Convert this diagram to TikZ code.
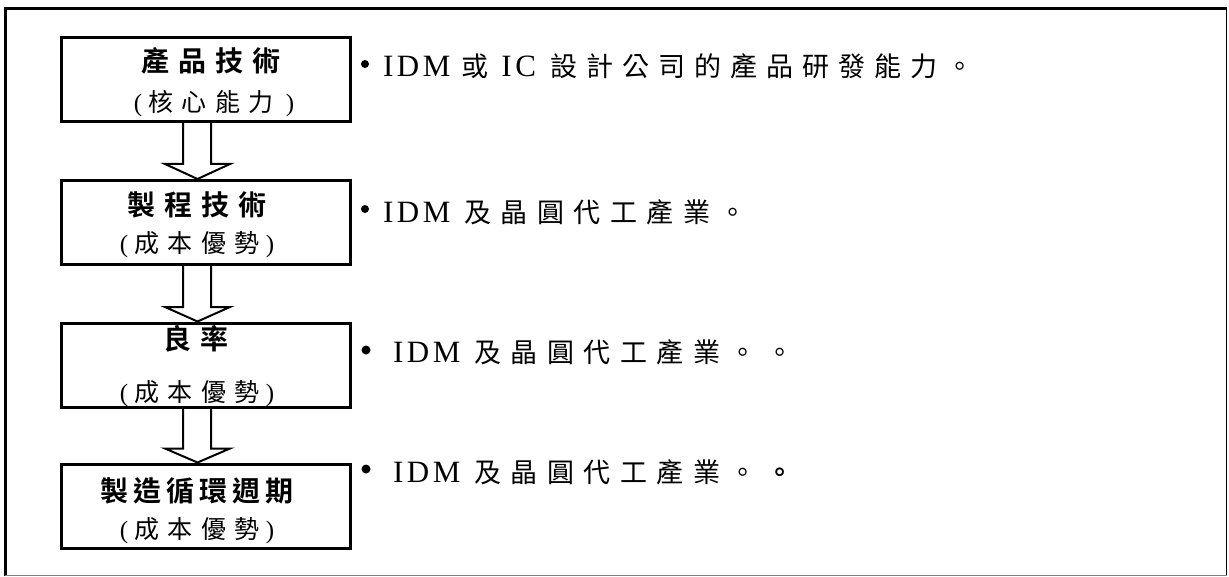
\documentclass[tikz,border=0pt]{standalone}
\usepackage{fontspec}
\usetikzlibrary{calc}
\setmainfont{Liberation Serif}
\newfontfamily\lat{Liberation Serif}
\newfontfamily\cjk{Noto Sans CJK TC}
\newfontfamily\cjkb{Noto Sans CJK TC Bold}

% set each character of a string in its own box, with a fixed gap after it
\ExplSyntaxOn
\NewDocumentCommand\spaced{m m}{\tl_map_inline:nn {#2}{\mbox{##1}\hspace{#1}}\unskip}
\ExplSyntaxOff

\newcommand\titlefont{\cjkb\fontsize{14pt}{16pt}\selectfont}
\newcommand\subfont{\fontsize{12.5pt}{15pt}\selectfont}
\newcommand\rowlat{\lat\fontsize{15.5pt}{18pt}\selectfont}
\newcommand\rowcjk{\cjk\fontsize{13.5pt}{16pt}\selectfont}

\begin{document}
\begin{tikzpicture}[x=0.5pt,y=-0.5pt,
  stepbox/.style={draw,line width=1.5pt,minimum width=144.5pt,minimum height=42pt,inner sep=0pt},
  blockarrow/.style={draw,line width=1pt,line join=miter},
  txt/.style={inner sep=0pt,outer sep=0pt},
  bullet/.style={circle,fill=black,inner sep=0pt}]
\useasboundingbox (0,0) rectangle (1229,577);

% outer frame
\draw[line width=1.4pt] (5.5,576) -- (5.5,8.5) -- (1227,8.5);
\draw[line width=0.8pt] (1226.5,8) -- (1226.5,576);
\draw[gray,line width=0.8pt] (5,575.6) -- (1227,575.6);

% the four stages
\node[stepbox] (b1) at (206,79.5) {};
\node[stepbox] (b2) at (206,222.5) {};
\node[stepbox] (b3) at (206,365) {};
\node[stepbox] (b4) at (206,506) {};

% stage titles
\node[txt] (t1) at (211,61) {\titlefont\spaced{4.5pt}{產品技術}};
\node[txt] (s1) at (214,104) {\subfont{\lat(}\hspace{3pt}{\cjk\spaced{4.25pt}{核心能力}}\hspace{6pt}{\lat)}};
\node[txt] (t2) at (197,205) {\titlefont\spaced{4.5pt}{製程技術}};
\node[txt] (s2) at (197,245) {\subfont{\lat(}\hspace{3pt}{\cjk\spaced{4.25pt}{成本優勢}}\hspace{3pt}{\lat)}};
\node[txt] (t3) at (196,339) {\titlefont\spaced{4.5pt}{良率}};
\node[txt] (s3) at (197,394) {\subfont{\lat(}\hspace{3pt}{\cjk\spaced{4.25pt}{成本優勢}}\hspace{3pt}{\lat)}};
\node[txt] (t4) at (197,491) {\titlefont\spaced{2.5pt}{製造循環週期}};
\node[txt] (s4) at (197,531) {\subfont{\lat(}\hspace{3pt}{\cjk\spaced{4.25pt}{成本優勢}}\hspace{3pt}{\lat)}};

% hollow block arrows between the stages
\draw[blockarrow] ($(b1.south)+(-23,0)$) -- ++(0,41) -- ++(-18,0)
  -- ($(b2.north)+(-8.5,0)$) -- ($(b1.south)+(24,41)$) -- ++(-19,0) -- ($(b1.south)+(5,0)$);
\draw[blockarrow] ($(b2.south)+(-23,0)$) -- ++(0,41) -- ++(-18,0)
  -- ($(b3.north)+(-8.5,0)$) -- ($(b2.south)+(24,41)$) -- ++(-19,0) -- ($(b2.south)+(5,0)$);
\draw[blockarrow] ($(b3.south)+(-23,0)$) -- ++(0,40) -- ++(-18,0)
  -- ($(b4.north)+(-8.5,0)$) -- ($(b3.south)+(24,40)$) -- ++(-19,0) -- ($(b3.south)+(5,0)$);

% notes beside each stage
\node[bullet,minimum size=4pt] (d1) at (365,64) {};
\node[txt,anchor=base west] (n1) at (383,77)
  {{\rowlat\spaced{1.8pt}{IDM}}\hspace{5.5pt}{\rowcjk 或}\hspace{6.5pt}{\rowlat\spaced{1.8pt}{IC}}\hspace{7pt}{\rowcjk\spaced{4.5pt}{設計公司的產品研發能力。}}};
\node[bullet,minimum size=4pt] (d2) at (365,209) {};
\node[txt,anchor=base west] (n2) at (383,222)
  {{\rowlat\spaced{1.8pt}{IDM}}\hspace{7pt}{\rowcjk\spaced{4.75pt}{及晶圓代工產業。}}};
\node[bullet,minimum size=4.5pt] (d3) at (366,350) {};
\node[txt,anchor=base west] (n3) at (393,362)
  {{\rowlat\spaced{1.8pt}{IDM}}\hspace{7pt}{\rowcjk\spaced{4.75pt}{及晶圓代工產業。。}}};
\node[bullet,minimum size=4.5pt] (d4) at (366,469) {};
\node[txt,anchor=base west] (n4) at (393,482)
  {{\rowlat\spaced{1.8pt}{IDM}}\hspace{7pt}{\rowcjk\spaced{4.75pt}{及晶圓代工產業。}}\hspace{4.75pt}{\rowcjk\cjkb 。}};
\end{tikzpicture}
\end{document}
